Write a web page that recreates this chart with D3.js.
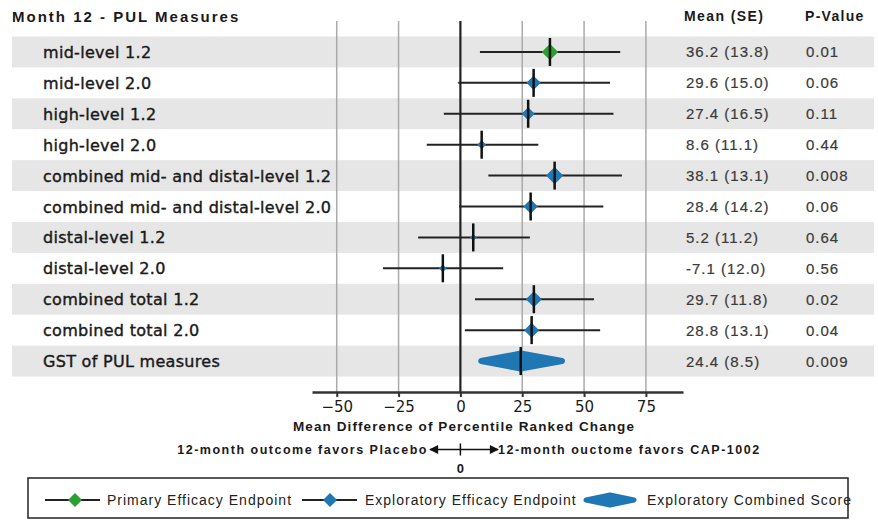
<!DOCTYPE html>
<html lang="en">

<head>
    <meta charset="UTF-8">
    <title>Month 12 - PUL Measures</title>
    <script src="https://d3js.org/d3.v7.min.js"></script>
    <style>
        body {
            margin: 0;
            padding: 0;
            background: #fff;
        }

        svg {
            display: block;
        }

        .row-label {
            font-family: "DejaVu Sans", sans-serif;
            font-size: 16px;
            letter-spacing: 0.3px;
            fill: #1a1a1a;
            stroke: #1a1a1a;
            stroke-width: 0.4px;
        }

        .col-text {
            font-family: "Liberation Sans", Arial, sans-serif;
            font-size: 15px;
            letter-spacing: 1px;
            fill: #3a3a3a;
            stroke: #3a3a3a;
            stroke-width: 0.2px;
        }

        .head {
            font-family: "Liberation Sans", Arial, sans-serif;
            font-weight: bold;
            fill: #1a1a1a;
        }

        .axis text {
            font-family: "DejaVu Sans", sans-serif;
            font-size: 15px;
            fill: #1a1a1a;
        }

        .legend-text {
            font-family: "Liberation Sans", Arial, sans-serif;
            font-size: 14px;
            letter-spacing: 1px;
            fill: #222;
        }
    </style>
</head>

<body>
    <div id="chart"></div>

    <script>
        // chart data
        const labels = [
            "mid-level 1.2", "mid-level 2.0", "high-level 1.2", "high-level 2.0",
            "combined mid- and distal-level 1.2", "combined mid- and distal-level 2.0",
            "distal-level 1.2", "distal-level 2.0", "combined total 1.2",
            "combined total 2.0", "GST of PUL measures"
        ];
        const means = [36.2, 29.6, 27.4, 8.6, 38.1, 28.4, 5.2, -7.1, 29.7, 28.8, 24.4];
        const ses = [13.8, 15.0, 16.5, 11.1, 13.1, 14.2, 11.2, 12.0, 11.8, 13.1, 8.5];
        const ciLow = [7.9, -0.9, -6.7, -13.6, 11.3, -0.5, -17.1, -31.3, 5.9, 1.8, 7.2];
        const ciHigh = [64.6, 60.5, 61.9, 31.5, 65.3, 57.8, 28.1, 17.3, 54.0, 56.5, 42.3];
        const pValues = ["0.01", "0.06", "0.11", "0.44", "0.008", "0.06", "0.64", "0.56", "0.02", "0.04", "0.009"];
        const endpointTypes = ["primary", "exploratory", "exploratory", "exploratory", "exploratory",
            "exploratory", "exploratory", "exploratory", "exploratory", "exploratory", "combined"];
        const tickValues = [-50, -25, 0, 25, 50, 75];
        const legendItems = ["Primary Efficacy Endpoint", "Exploratory Efficacy Endpoint", "Exploratory Combined Score"];

        const width = 878;
        const height = 521;
        const colors = { primary: "#2ca02c", exploratory: "#1f77b4", combined: "#1f77b4" };

        const rows = labels.map((label, i) => ({
            label: label,
            mean: means[i],
            se: ses[i],
            lo: ciLow[i],
            hi: ciHigh[i],
            p: pValues[i],
            type: endpointTypes[i]
        }));

        const svg = d3.select("#chart")
            .append("svg")
            .attr("width", width)
            .attr("height", height);

        const x = d3.scaleLinear().domain([-60, 90]).range([312, 683]);
        const y = d3.scaleBand().domain(labels).range([36.5, 376.5]);
        const cy = d => y(d.label) + y.bandwidth() / 2;

        // marker size follows |mean / SE|
        const size = d3.scaleSqrt().domain([0, 3]).range([0, 17.5]);

        // shaded rows
        svg.append("g")
            .selectAll("rect")
            .data(rows.filter((d, i) => i % 2 === 0))
            .enter().append("rect")
            .attr("x", 12)
            .attr("width", 862)
            .attr("y", d => y(d.label))
            .attr("height", y.bandwidth())
            .attr("fill", "#e6e6e6");

        // vertical grid
        svg.append("g")
            .selectAll("line")
            .data(tickValues)
            .enter().append("line")
            .attr("x1", d => x(d))
            .attr("x2", d => x(d))
            .attr("y1", 21)
            .attr("y2", 392)
            .attr("stroke", d => d === 0 ? "#222" : "#aaa")
            .attr("stroke-width", d => d === 0 ? 2.2 : 1.5);

        // titles
        svg.append("text").attr("class", "head")
            .attr("x", 12).attr("y", 22)
            .style("font-size", "15px").style("letter-spacing", "2px")
            .text("Month 12 - PUL Measures");
        svg.append("text").attr("class", "head")
            .attr("x", 684).attr("y", 21)
            .style("font-size", "14px").style("letter-spacing", "1.4px")
            .text("Mean (SE)");
        svg.append("text").attr("class", "head")
            .attr("x", 805).attr("y", 21)
            .style("font-size", "14px").style("letter-spacing", "1.3px")
            .text("P-Value");

        const row = svg.append("g")
            .selectAll("g")
            .data(rows)
            .enter().append("g");

        row.append("text")
            .attr("class", "row-label")
            .attr("x", 43)
            .attr("y", d => cy(d) + 6)
            .text(d => d.label);

        row.append("text")
            .attr("class", "col-text")
            .attr("x", 686)
            .attr("y", d => cy(d) + 5.5)
            .text(d => `${d.mean.toFixed(1)} (${d.se.toFixed(1)})`);

        row.append("text")
            .attr("class", "col-text")
            .attr("x", 806)
            .attr("y", d => cy(d) + 5.5)
            .text(d => d.p);

        // confidence intervals
        const pointRows = row.filter(d => d.type !== "combined");

        pointRows.append("line")
            .attr("x1", d => x(d.lo))
            .attr("x2", d => x(d.hi))
            .attr("y1", cy)
            .attr("y2", cy)
            .attr("stroke", "#222")
            .attr("stroke-width", 2);

        pointRows.append("path")
            .attr("d", d => {
                const r = size(Math.abs(d.mean / d.se)) / 2;
                const cx = x(d.mean), c = cy(d);
                return `M${cx - r},${c}L${cx},${c - r}L${cx + r},${c}L${cx},${c + r}Z`;
            })
            .attr("fill", d => colors[d.type]);

        // combined score shape
        const combinedRows = row.filter(d => d.type === "combined");

        combinedRows.append("path")
            .attr("d", d => {
                const c = cy(d);
                return `M${x(d.lo) + 3},${c}L${x(d.mean)},${c - 7.5}L${x(d.hi) - 3},${c}L${x(d.mean)},${c + 7.5}Z`;
            })
            .attr("fill", colors.combined)
            .attr("stroke", colors.combined)
            .attr("stroke-width", 6)
            .attr("stroke-linejoin", "round");

        row.append("line")
            .attr("x1", d => x(d.mean))
            .attr("x2", d => x(d.mean))
            .attr("y1", d => cy(d) - 14)
            .attr("y2", d => cy(d) + 14)
            .attr("stroke", "#111")
            .attr("stroke-width", 2.5);

        // x axis
        const axis = svg.append("g")
            .attr("class", "axis")
            .attr("transform", "translate(0,392)")
            .call(d3.axisBottom(x).tickValues(tickValues).tickSize(5).tickSizeOuter(0).tickPadding(4));

        axis.select(".domain").attr("stroke", "#333").attr("stroke-width", 2.5);
        axis.selectAll(".tick line").attr("stroke", "#333").attr("stroke-width", 2);

        svg.append("text").attr("class", "head")
            .attr("x", 464).attr("y", 431)
            .attr("text-anchor", "middle")
            .style("font-size", "13.5px").style("letter-spacing", "1.1px")
            .text("Mean Difference of Percentile Ranked Change");

        // favours arrow
        const arrowY = 449.5;
        const defs = svg.append("defs");
        defs.append("marker")
            .attr("id", "arrow")
            .attr("viewBox", "0 0 10 10")
            .attr("refX", 9).attr("refY", 5)
            .attr("markerWidth", 7).attr("markerHeight", 6)
            .attr("orient", "auto-start-reverse")
            .append("path")
            .attr("d", "M0,0L10,5L0,10Z")
            .attr("fill", "#111");

        svg.append("line")
            .attr("x1", 430).attr("x2", 498)
            .attr("y1", arrowY).attr("y2", arrowY)
            .attr("stroke", "#111").attr("stroke-width", 1.5)
            .attr("marker-start", "url(#arrow)")
            .attr("marker-end", "url(#arrow)");

        svg.append("line")
            .attr("x1", x(0)).attr("x2", x(0))
            .attr("y1", arrowY - 6).attr("y2", arrowY + 6)
            .attr("stroke", "#111").attr("stroke-width", 1.5);

        svg.append("text").attr("class", "head")
            .attr("x", 428).attr("y", arrowY + 4.5)
            .attr("text-anchor", "end")
            .style("font-size", "12.5px").style("letter-spacing", "1.5px")
            .text("12-month outcome favors Placebo");

        svg.append("text").attr("class", "head")
            .attr("x", 498).attr("y", arrowY + 4.5)
            .style("font-size", "12.5px").style("letter-spacing", "1.5px")
            .text("12-month ouctome favors CAP-1002");

        svg.append("text").attr("class", "head")
            .attr("x", x(0)).attr("y", 473)
            .attr("text-anchor", "middle")
            .style("font-size", "13px")
            .text("0");

        // legend
        const legend = svg.append("g");
        legend.append("rect")
            .attr("x", 28).attr("y", 478)
            .attr("width", 820).attr("height", 40)
            .attr("fill", "#fff")
            .attr("stroke", "#222")
            .attr("stroke-width", 1.5);

        const legY = 500;
        [[45, 100, 75, colors.primary, 107], [302, 357, 330, colors.exploratory, 365]].forEach((l, i) => {
            legend.append("line")
                .attr("x1", l[0]).attr("x2", l[1])
                .attr("y1", legY).attr("y2", legY)
                .attr("stroke", "#222").attr("stroke-width", 2);
            legend.append("path")
                .attr("d", `M${l[2] - 7},${legY}L${l[2]},${legY - 7}L${l[2] + 7},${legY}L${l[2]},${legY + 7}Z`)
                .attr("fill", l[3]);
            legend.append("text")
                .attr("class", "legend-text")
                .attr("x", l[4]).attr("y", legY + 5)
                .text(legendItems[i]);
        });

        legend.append("path")
            .attr("d", `M586,${legY}L610,${legY - 5}L634,${legY}L610,${legY + 5}Z`)
            .attr("fill", colors.combined)
            .attr("stroke", colors.combined)
            .attr("stroke-width", 5)
            .attr("stroke-linejoin", "round");

        legend.append("text")
            .attr("class", "legend-text")
            .attr("x", 647).attr("y", legY + 5)
            .text(legendItems[2]);
    </script>
</body>

</html>
